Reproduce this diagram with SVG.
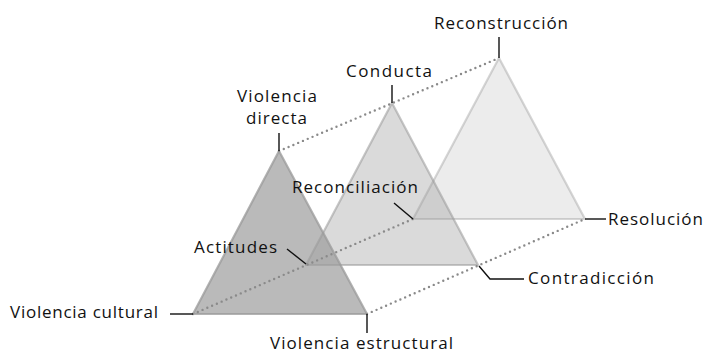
<svg xmlns="http://www.w3.org/2000/svg" width="708" height="354" viewBox="0 0 708 354">
<style>
.tri{fill:#999999;stroke:#999999;stroke-width:2.2;stroke-linejoin:round}
.dot{fill:none;stroke:#8a8a8a;stroke-width:2.4;stroke-linecap:round;stroke-dasharray:0 5.2}
.lead{fill:none;stroke:#111;stroke-width:1.4}
text{font-family:"Open Sans",Lato,sans-serif;font-size:17px;fill:#111}
</style>
<rect width="708" height="354" fill="#ffffff"/>
<g id="triangulo-3">
<polygon class="tri" points="499,58 413,219 585,219" style="fill-opacity:0.19;stroke-opacity:0.4"/>
</g>
<g id="triangulo-2">
<polygon class="tri" points="392,103 306,265 478,265" style="fill-opacity:0.36;stroke-opacity:0.55"/>
</g>
<g id="triangulo-1">
<polygon class="tri" points="279,151 193,314 367,314" style="fill-opacity:0.68;stroke-opacity:0.75"/>
</g>
<g id="connectors">
<line class="dot" x1="279" y1="151" x2="499" y2="58"/>
<line class="dot" x1="193" y1="314" x2="413" y2="219"/>
<line class="dot" x1="367" y1="314" x2="585" y2="219"/>
<line class="lead" x1="279" y1="133" x2="279" y2="151"/>
<line class="lead" x1="392" y1="85" x2="392" y2="103"/>
<line class="lead" x1="499" y1="37" x2="499" y2="58"/>
<line class="lead" x1="394" y1="203" x2="413" y2="219"/>
<line class="lead" x1="287" y1="249" x2="306" y2="264"/>
<line class="lead" x1="170" y1="314" x2="193" y2="314"/>
<line class="lead" x1="367" y1="314" x2="367" y2="333"/>
<line class="lead" x1="585" y1="219" x2="606" y2="219"/>
<polyline class="lead" points="479,266 490,279 524,279"/>
</g>
<g id="label-violencia-directa">
<text x="237" y="102" textLength="80" lengthAdjust="spacing">Violencia</text>
<text x="246" y="124" textLength="61" lengthAdjust="spacing">directa</text>
</g>
<g id="label-conducta"><text x="346" y="77" textLength="86" lengthAdjust="spacing">Conducta</text></g>
<g id="label-reconstruccion"><text x="434" y="29" textLength="134" lengthAdjust="spacing">Reconstrucción</text></g>
<g id="label-reconciliacion"><text x="292" y="193" textLength="126" lengthAdjust="spacing">Reconciliación</text></g>
<g id="label-actitudes"><text x="194" y="253" textLength="83" lengthAdjust="spacing">Actitudes</text></g>
<g id="label-violencia-cultural"><text x="10" y="318" textLength="148" lengthAdjust="spacing">Violencia cultural</text></g>
<g id="label-violencia-estructural"><text x="270" y="349" textLength="183" lengthAdjust="spacing">Violencia estructural</text></g>
<g id="label-resolucion"><text x="608" y="225" textLength="95" lengthAdjust="spacing">Resolución</text></g>
<g id="label-contradiccion"><text x="528" y="284" textLength="126" lengthAdjust="spacing">Contradicción</text></g>
</svg>
